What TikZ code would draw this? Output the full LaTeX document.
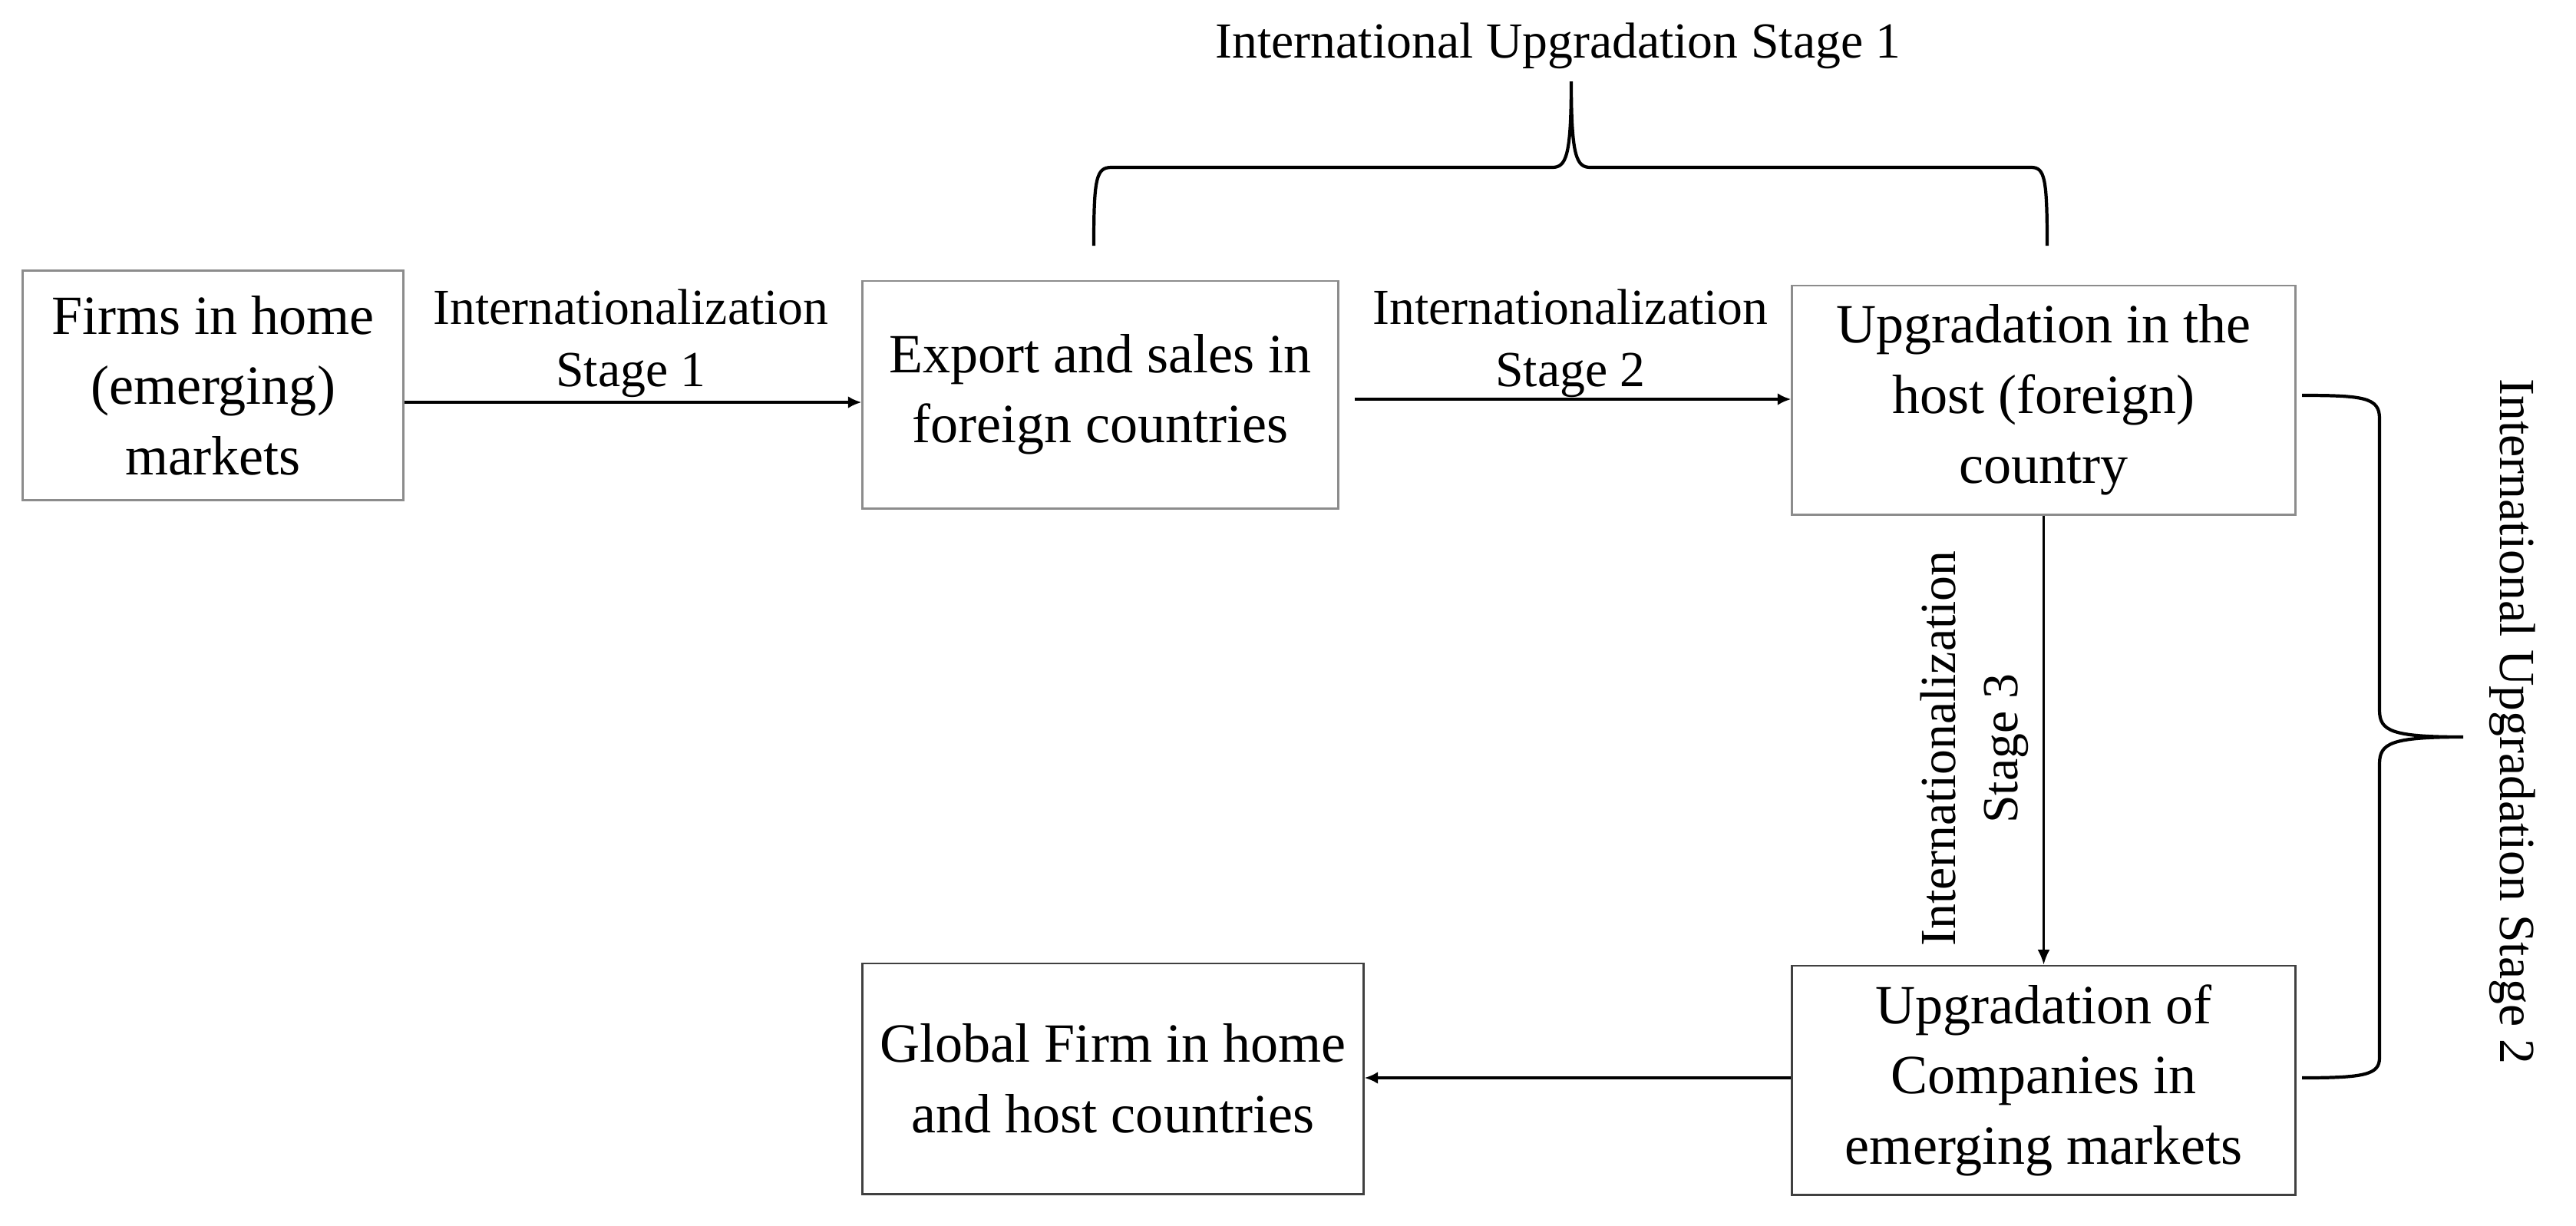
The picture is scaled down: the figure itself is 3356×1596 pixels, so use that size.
\documentclass[tikz,border=0pt]{standalone}
\usepackage{fontspec}
\setmainfont{Liberation Serif}
\usetikzlibrary{arrows.meta}
\tikzset{
  boxA/.style={draw=black!45, line width=0.8pt, align=center, font=\fontsize{20.5pt}{26pt}\selectfont, inner sep=0pt},
  boxB/.style={draw=black!75, line width=0.8pt, align=center, font=\fontsize{20.5pt}{26pt}\selectfont, inner sep=0pt},
  lbl/.style={align=center, font=\fontsize{18.7pt}{23pt}\selectfont, inner sep=0pt},
  thickarrow/.style={line width=1.4pt, -{Latex[length=5pt,width=4.5pt]}},
  thinarrow/.style={line width=0.7pt, -{Latex[length=5.5pt,width=4.5pt]}},
  bracepath/.style={line width=1.2pt}
}
\begin{document}
\begin{tikzpicture}[x=0.01cm,y=-0.01cm]
\useasboundingbox (0,0) rectangle (3356,1596);
\node[boxA, minimum width=4.95cm, minimum height=2.99cm] (b1) at (277.5,502) {Firms in home\\(emerging)\\markets};
\node[boxA, minimum width=6.19cm, minimum height=2.96cm] (b2) at (1433.5,514) {Export and sales in\\foreign countries};
\node[boxA, minimum width=6.55cm, minimum height=2.98cm] (b3) at (2662.5,521) {Upgradation in the\\host (foreign)\\country};
\node[boxB, minimum width=6.55cm, minimum height=2.98cm] (b4) at (2662.5,1407) {Upgradation of\\Companies in\\emerging markets};
\node[boxB, minimum width=6.52cm, minimum height=3.00cm] (b5) at (1450,1405) {Global Firm in home\\and host countries};

\coordinate (y1) at (0,524);
\coordinate (y2) at (0,520);
\coordinate (y4) at (0,1404);
\draw[thickarrow] (b1.east |- y1) -- (b2.west |- y1);
\draw[thickarrow] (b2.east |- y2) ++(20,0) -- (b3.west |- y2);
\draw[thinarrow] (b3.south) -- (b4.north);
\draw[thickarrow] (b4.west |- y4) -- (b5.east |- y4);

\node[lbl] (l1) at (822,447) {Internationalization\\Stage 1};
\node[lbl] (l2) at (2046,447) {Internationalization\\Stage 2};
\node[lbl, rotate=90] (l3) at (2572,975) {Internationalization\\Stage 3};
\node[lbl] (t1) at (2030,60) {International Upgradation Stage 1};
\node[lbl, rotate=-90] (t2) at (3273,940) {International Upgradation Stage 2};

\draw[bracepath] (1425,320) .. controls (1425,232) and (1428,218) .. (1448,218) -- (2022,218) .. controls (2040,218) and (2047,205) .. (2047,106) .. controls (2047,205) and (2054,218) .. (2072,218) -- (2646,218) .. controls (2664,218) and (2667,232) .. (2667,320);
\draw[bracepath] (2999,515) .. controls (3080,515) and (3100,518) .. (3100,545) -- (3100,925) .. controls (3100,952) and (3115,960) .. (3209,960) .. controls (3115,960) and (3100,968) .. (3100,995) -- (3100,1378) .. controls (3100,1400) and (3080,1404) .. (2999,1404);
\end{tikzpicture}
\end{document}
